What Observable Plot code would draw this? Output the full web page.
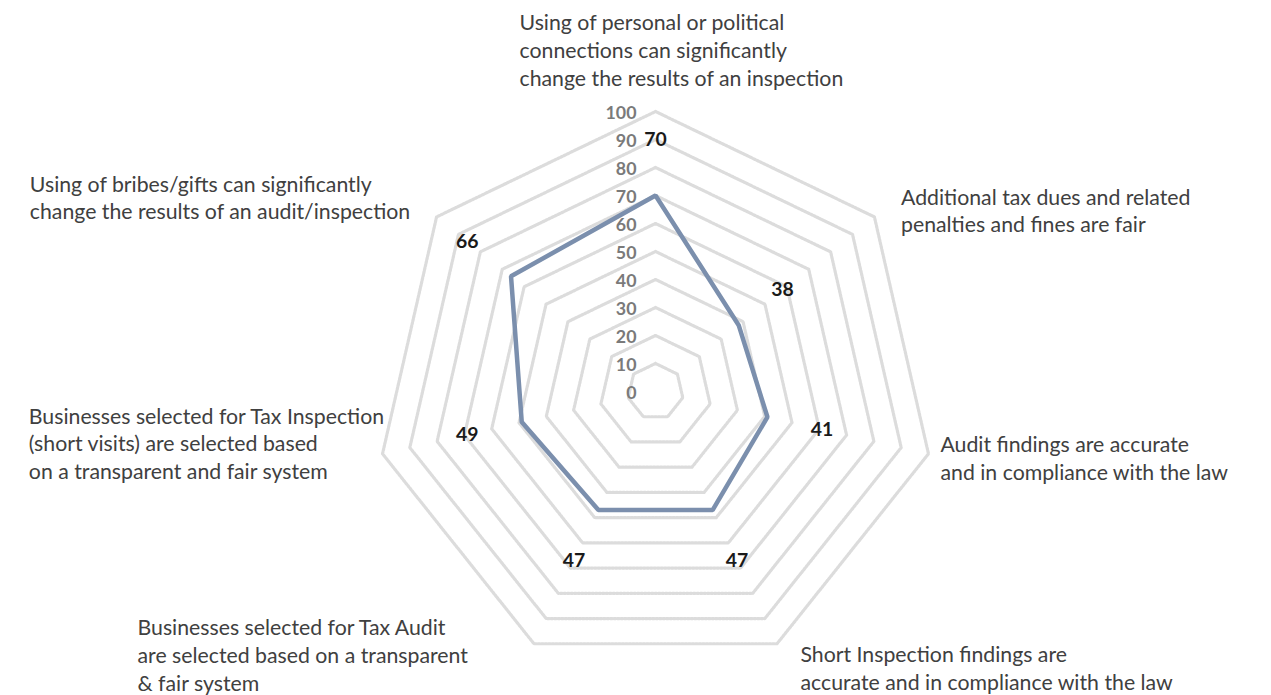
<!DOCTYPE html>
<html>
<head>
<meta charset="utf-8">
<script src="https://cdn.jsdelivr.net/npm/d3@7"></script>
<script src="https://cdn.jsdelivr.net/npm/@observablehq/plot@0.6"></script>
<style>
  html, body { margin: 0; padding: 0; background: #ffffff; overflow: hidden; }
  #chart svg { display: block; }
</style>
</head>
<body>
<div id="chart"></div>
<script>
// ---------------- DATA ----------------
const categories = [
  "Using of personal or political\nconnections can significantly\nchange the results of an inspection",
  "Additional tax dues and related\npenalties and fines are fair",
  "Audit findings are accurate\nand in compliance with the law",
  "Short Inspection findings are\naccurate and in compliance with the law",
  "Businesses selected for Tax Audit\nare selected based on a transparent\n& fair system",
  "Businesses selected for Tax Inspection\n(short visits) are selected based\non a transparent and fair system",
  "Using of bribes/gifts can significantly\nchange the results of an audit/inspection"
];
const values = [70, 38, 41, 47, 47, 49, 66];
const tickValues = [0, 10, 20, 30, 40, 50, 60, 70, 80, 90, 100];

// ---------------- LAYOUT ----------------
const W = 1271, H = 695;
const CX = 655, CY = 391;       // pixel centre of the radar
const PX_PER_UNIT = 2.8;         // 100 -> 280 px
const LABEL_GAP = 20;            // value-label distance beyond point (data units)
// per-label offsets (px) from the end of each spoke: left edge, mean baseline
const labelOffsets = [
  { dx: -136, base: -55.7 },
  { dx: 26.6, base: -0.4 },
  { dx: 12,   base: 10 },
  { dx: 23.5, base: 30.5 },
  { dx: -396.5, base: 17.2 },
  { dx: -353.7, base: -4.5 },
  { dx: -406.8, base: -13.5 }
];
const FONT = "Lato, 'Open Sans', sans-serif";

// font sizes fitted to the reference text widths
const ctx = document.createElement("canvas").getContext("2d");
function measure(txt, weight) {
  ctx.font = `${weight} 100px ${FONT}`;
  return ctx.measureText(txt).width;
}
const fsLabel = 100 * 266 / measure("Using of personal or political", "normal");
const fsTick = 100 * 31 / measure("100", "bold");
const fsValue = 100 * 22.5 / measure("66", "bold");
const lineHeightPx = 27.7;

const n = categories.length;
const angle = i => (i * 2 * Math.PI) / n;
const polar = (r, i) => ({ x: r * Math.sin(angle(i)), y: r * Math.cos(angle(i)) });

const ringData = tickValues.filter(t => t > 0).flatMap(t =>
  categories.map((c, i) => ({ ring: t, ...polar(t, i) }))
);
const seriesData = values.map((v, i) => ({ v, ...polar(v, i) }));
const valueLabelData = values.map((v, i) => ({ v, ...polar(v + LABEL_GAP, i) }));

const categoryMarks = categories.map((c, i) => {
  const p = polar(100, i);
  return Plot.text([c], {
    x: () => p.x,
    y: () => p.y,
    text: d => d,
    textAnchor: "start",
    lineAnchor: "middle",
    lineHeight: lineHeightPx / fsLabel,
    dx: labelOffsets[i].dx,
    dy: labelOffsets[i].base - 0.32 * fsLabel,
    fontSize: fsLabel,
    fill: "#404040"
  });
});

const chart = Plot.plot({
  width: W,
  height: H,
  margin: 0,
  style: { fontFamily: FONT, background: "#ffffff" },
  x: { domain: [-CX / PX_PER_UNIT, (W - CX) / PX_PER_UNIT], range: [0, W], axis: null },
  y: { domain: [CY / PX_PER_UNIT, -(H - CY) / PX_PER_UNIT], range: [0, H], axis: null },
  marks: [
    Plot.line(ringData, {
      x: "x", y: "y", z: "ring",
      curve: "linear-closed",
      stroke: "#dcdcdc",
      strokeWidth: 3.2,
      strokeDasharray: "2,1.5"
    }),
    Plot.line(seriesData, {
      x: "x", y: "y",
      curve: "linear-closed",
      stroke: "#7b8fad",
      strokeWidth: 4.5,
      strokeLinejoin: "miter"
    }),
    Plot.text(tickValues, {
      x: () => 0,
      y: d => d,
      text: d => String(d),
      textAnchor: "end",
      dx: -19,
      dy: 2,
      fontWeight: "bold",
      fontSize: fsTick,
      fill: "#7a7a7a"
    }),
    Plot.text(valueLabelData, {
      x: "x", y: "y",
      text: d => String(d.v),
      fontWeight: "bold",
      fontSize: fsValue,
      fill: "#1a1a1a"
    }),
    ...categoryMarks
  ]
});
document.getElementById("chart").appendChild(chart);
</script>
</body>
</html>
